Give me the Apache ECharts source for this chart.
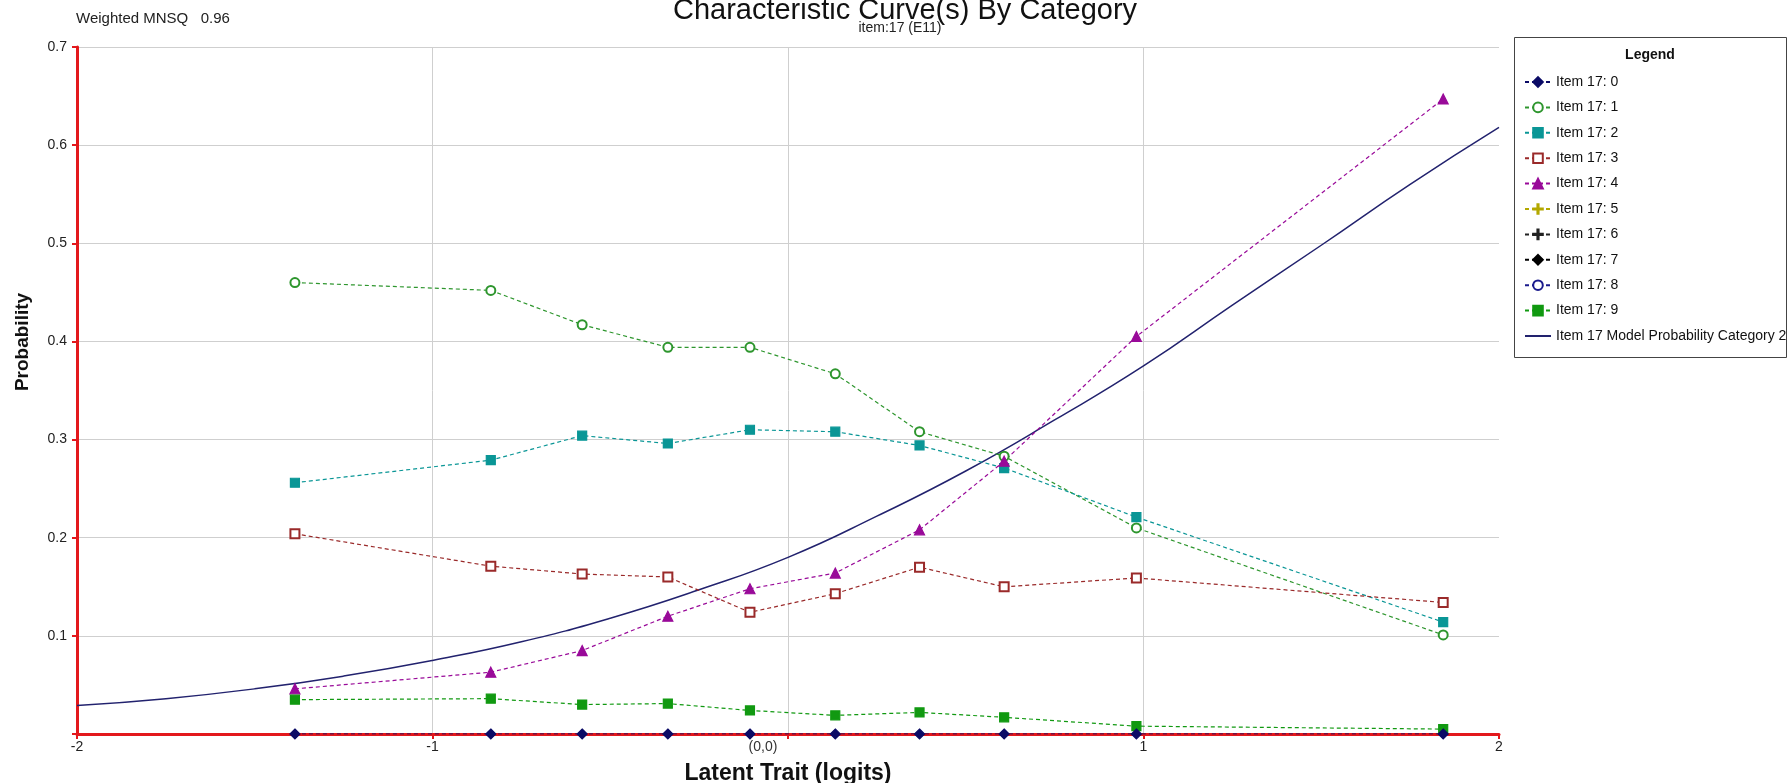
<!DOCTYPE html>
<html>
<head>
<meta charset="utf-8">
<script src="https://cdn.jsdelivr.net/npm/echarts@6/dist/echarts.min.js"></script>
<style>
  html, body { margin: 0; padding: 0; background: #ffffff; }
  #chart { width: 1787px; height: 783px; }
</style>
</head>
<body>
<div id="chart"></div>
<script>
// Ability group means (logits) at which observed category proportions were computed
const abilityPoints = [-1.387, -0.836, -0.579, -0.338, -0.107, 0.133, 0.370, 0.608, 0.980, 1.843];

// Observed proportions per category
const cat0 = [0, 0, 0, 0, 0, 0, 0, 0, 0, 0];
const cat1 = [0.460, 0.452, 0.417, 0.394, 0.394, 0.367, 0.308, 0.283, 0.210, 0.101];
const cat2 = [0.256, 0.279, 0.304, 0.296, 0.310, 0.308, 0.294, 0.271, 0.221, 0.114];
const cat3 = [0.204, 0.171, 0.163, 0.160, 0.124, 0.143, 0.170, 0.150, 0.159, 0.134];
const cat4 = [0.046, 0.063, 0.085, 0.120, 0.148, 0.164, 0.208, 0.278, 0.405, 0.647];
const cat5 = [];
const cat6 = [];
const cat7 = [];
const cat8 = [];
const cat9 = [0.035, 0.036, 0.030, 0.031, 0.024, 0.019, 0.022, 0.017, 0.008, 0.005];

// Model probability curve for category 2
const modelTheta = [-2, -1.75, -1.5, -1.25, -1, -0.75, -0.5, -0.25, 0, 0.25, 0.5, 0.75, 1, 1.25, 1.5, 1.75, 2];
const modelProb  = [0.029, 0.036, 0.046, 0.059, 0.075, 0.094, 0.118, 0.147, 0.180, 0.222, 0.268, 0.320, 0.375, 0.437, 0.498, 0.560, 0.618];

const seriesNames = ['Item 17: 0', 'Item 17: 1', 'Item 17: 2', 'Item 17: 3', 'Item 17: 4',
                     'Item 17: 5', 'Item 17: 6', 'Item 17: 7', 'Item 17: 8', 'Item 17: 9'];
const modelName = 'Item 17 Model Probability Category 2';

const yTicks = [0.1, 0.2, 0.3, 0.4, 0.5, 0.6, 0.7];
const xTicks = [-2, -1, 1, 2];

const FONT = '"Liberation Sans", Arial, sans-serif';
const plusPath = 'path://M4.4,0h1.2v4.4h4.4v1.2h-4.4v4.4h-1.2v-4.4h-4.4v-1.2h4.4z';

const catStyles = [
  { data: cat0, color: '#0b0b66', symbol: 'diamond',     size: 10 },
  { data: cat1, color: '#2e962e', symbol: 'emptyCircle', size: 9 },
  { data: cat2, color: '#0a9696', symbol: 'rect',        size: 9 },
  { data: cat3, color: '#9a2a2a', symbol: 'emptyRect',   size: 9 },
  { data: cat4, color: '#990a99', symbol: 'triangle',    size: 10 },
  { data: cat5, color: '#b3a800', symbol: plusPath,      size: 11 },
  { data: cat6, color: '#222222', symbol: plusPath,      size: 11 },
  { data: cat7, color: '#000000', symbol: 'diamond',     size: 10 },
  { data: cat8, color: '#1a1a8c', symbol: 'emptyCircle', size: 9 },
  { data: cat9, color: '#119911', symbol: 'rect',        size: 9 }
];

const series = catStyles.map((s, k) => ({
  name: seriesNames[k],
  type: 'line',
  data: s.data.map((v, i) => [abilityPoints[i], v]),
  symbol: s.symbol,
  symbolSize: s.size,
  showAllSymbol: true,
  color: s.color,
  itemStyle: { color: s.color, borderColor: s.color, borderWidth: 1.2 },
  lineStyle: { color: s.color, width: 1.2, type: [4, 3] },
  z: k === 0 ? 4 : 3,
  animation: false
}));

series.push({
  name: modelName,
  type: 'line',
  data: modelTheta.map((t, i) => [t, modelProb[i]]),
  smooth: true,
  symbol: 'none',
  color: '#22226e',
  lineStyle: { color: '#22226e', width: 1.5, type: 'solid' },
  z: 2,
  animation: false
});

const legendData = seriesNames.map(n => ({ name: n })).concat([{
  name: modelName,
  itemStyle: { color: 'rgba(0,0,0,0)', borderColor: 'rgba(0,0,0,0)', borderWidth: 0 }
}]);

const chart = echarts.init(document.getElementById('chart'), null, { renderer: 'canvas' });

chart.setOption({
  backgroundColor: '#ffffff',
  animation: false,
  grid: { left: 77, right: 288, top: 47, bottom: 49, containLabel: false, outerBoundsMode: 'none' },
  xAxis: {
    type: 'value',
    min: -2, max: 2, interval: 1,
    name: 'Latent Trait (logits)',
    nameLocation: 'middle',
    nameGap: 28,
    nameTextStyle: { fontFamily: FONT, fontSize: 23, fontWeight: 'bold', color: '#111' },
    axisLine: { show: true, onZero: false, lineStyle: { color: '#e3181c', width: 3 } },
    axisTick: { show: true, length: 5, lineStyle: { color: '#e3181c', width: 2 } },
    axisLabel: {
      fontFamily: FONT, fontSize: 14, color: '#222', margin: 6,
      formatter: v => (xTicks.indexOf(v) >= 0 ? String(v) : (v === 0 ? '{o|(0,0)}' : '')),
      rich: { o: { fontFamily: FONT, fontSize: 14, color: '#333', padding: [0, 50, 0, 0] } }
    },
    splitLine: { show: true, showMinLine: false, showMaxLine: false, lineStyle: { color: '#cfcfcf', width: 1 } }
  },
  yAxis: {
    type: 'value',
    min: 0, max: 0.7, interval: 0.1,
    axisLine: { show: true, onZero: false, lineStyle: { color: '#e3181c', width: 3 } },
    axisTick: { show: true, length: 5, lineStyle: { color: '#e3181c', width: 2 } },
    axisLabel: {
      fontFamily: FONT, fontSize: 14, color: '#222', margin: 10,
      formatter: v => {
        const r = Math.round(v * 10) / 10;
        return yTicks.indexOf(r) >= 0 ? r.toFixed(1) : '';
      }
    },
    splitLine: { show: true, showMinLine: false, lineStyle: { color: '#cfcfcf', width: 1 } }
  },
  legend: {
    orient: 'vertical',
    left: 1524,
    top: 75,
    itemWidth: 26,
    itemHeight: 12,
    itemGap: 11.4,
    padding: 0,
    textStyle: { fontFamily: FONT, fontSize: 14, color: '#111', lineHeight: 14 },
    data: legendData
  },
  graphic: [
    {
      type: 'rect', left: 1514, top: 37, z: -1,
      shape: { width: 272, height: 320 },
      style: { fill: '#ffffff', stroke: '#444444', lineWidth: 1 }
    },
    {
      type: 'text', x: 1650, y: 55,
      style: { text: 'Legend', font: 'bold 14px ' + FONT, fill: '#111', textAlign: 'center', textVerticalAlign: 'middle' }
    },
    {
      type: 'text', x: 905, y: 11,
      style: { text: 'Characteristic Curve(s) By Category', font: '29px ' + FONT, fill: '#111', textAlign: 'center', textVerticalAlign: 'middle' }
    },
    {
      type: 'text', x: 900, y: 28,
      style: { text: 'item:17 (E11)', font: '14px ' + FONT, fill: '#222', textAlign: 'center', textVerticalAlign: 'middle' }
    },
    {
      type: 'text', x: 76, y: 19,
      style: { text: 'Weighted MNSQ   0.96', font: '15px ' + FONT, fill: '#222', textAlign: 'left', textVerticalAlign: 'middle' }
    },
    {
      type: 'text', x: 23, y: 342, rotation: Math.PI / 2,
      style: { text: 'Probability', font: 'bold 19px ' + FONT, fill: '#111', textAlign: 'center', textVerticalAlign: 'middle' }
    }
  ],
  series: series
});
</script>
</body>
</html>
